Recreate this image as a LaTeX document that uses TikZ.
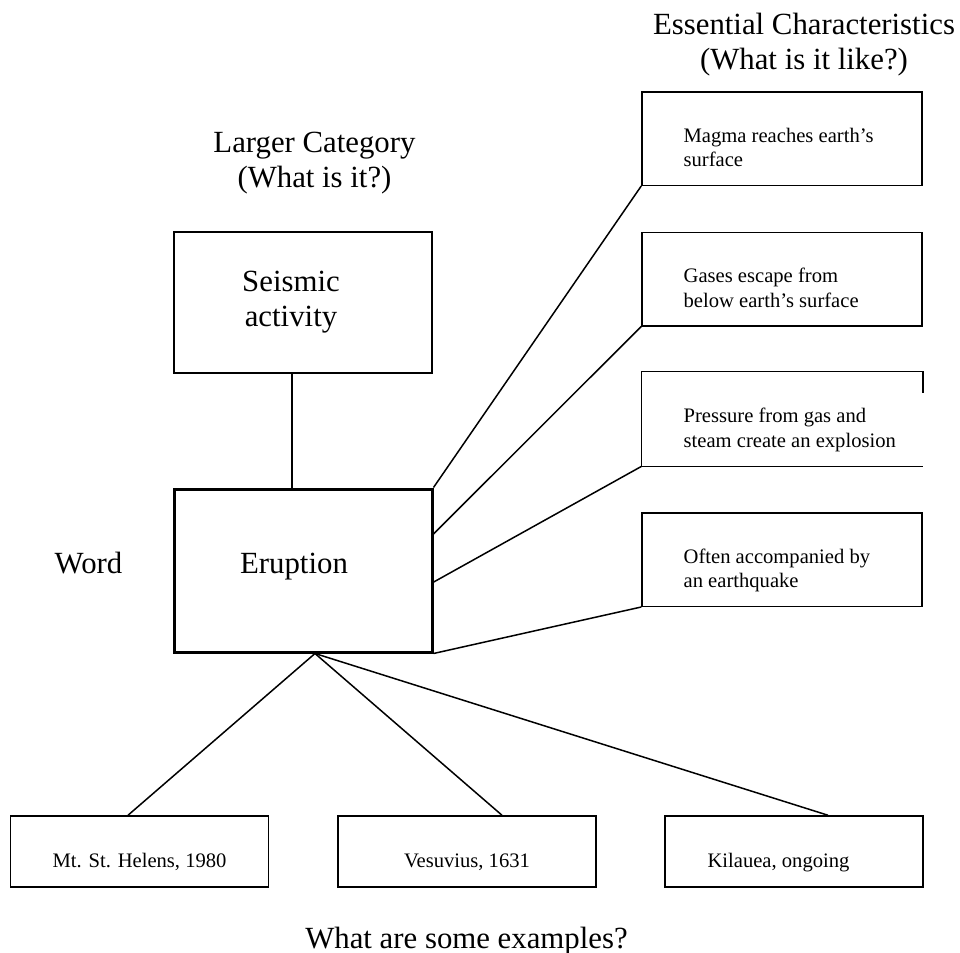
\documentclass[tikz,border=0pt]{standalone}
\usepackage{fontspec}
\setmainfont{Liberation Serif}
\usetikzlibrary{calc}
\tikzset{
  bigtext/.style={font=\fontsize{15.4}{17.5}\selectfont},
  smalltext/.style={font=\fontsize{10.3}{12.25}\selectfont},
  catbox/.style={draw,line width=0.75pt,bigtext,minimum width=129pt,inner sep=0pt},
  charbox/.style={draw,line width=0.75pt,minimum width=140pt,minimum height=46.75pt,inner sep=0pt},
  chartext/.style={smalltext,align=left,inner sep=0pt,anchor=base west},
  exbox/.style={draw,line width=0.75pt,smalltext,minimum width=129pt,minimum height=35.5pt,text height=15.5pt,text depth=0pt,inner sep=0pt},
  link/.style={line width=0.75pt}
}
\begin{document}
\begin{tikzpicture}[x=0.5pt,y=-0.5pt]
  \useasboundingbox (0,0) rectangle (960,953);
  \node[bigtext,align=center] (ectitle) at (804,45) {Essential Characteristics\\(What is it like?)};
  \node[bigtext,align=center] (lctitle) at (314.5,163) {Larger Category\\(What is it?)};
  \node[bigtext,anchor=base] (word) at (88.5,573) {Word};
  \node[bigtext,anchor=base] (extitle) at (466.5,948) {What are some examples?};
  \node[catbox,align=center,minimum height=70.5pt] (seismic) at (303,302.5) {Seismic\hspace*{12pt}\\activity\hspace*{12pt}};
  \node[catbox,line width=1.5pt,minimum height=81.5pt,text height=10.5pt,text depth=8pt] (erupt) at (303,570.5) {Eruption\hspace*{9pt}};
  \draw[link] ([xshift=-5.5pt]seismic.south) -- ([xshift=-5.5pt]erupt.north);
  \node[charbox] (c1) at (782,138.5) {};
  \node[chartext] (t1) at ([shift={(21pt,-14pt)}]c1.west) {Magma reaches earth's\\surface};
  \node[charbox] (c2) at (782,279) {};
  \node[chartext] (t2) at ([shift={(21pt,-14pt)}]c2.west) {Gases escape from\\below earth's surface};
  \node[charbox,draw=none] (c3) at (782,419) {};
  \draw[link] ([yshift=-10.5pt]c3.north east) -- (c3.north east) -- (c3.north west) -- (c3.south west) -- (c3.south east);
  \node[chartext] (t3) at ([shift={(21pt,-14pt)}]c3.west) {Pressure from gas and\\steam create an explosion};
  \node[charbox] (c4) at (782,559.5) {};
  \node[chartext] (t4) at ([shift={(21pt,-14pt)}]c4.west) {Often accompanied by\\an earthquake};
  \draw[link] (erupt.north east) -- (c1.south west);
  \draw[link] ($(erupt.north east)!0.28!(erupt.south east)$) -- (c2.south west);
  \draw[link] ($(erupt.north east)!0.57!(erupt.south east)$) -- (c3.south west);
  \draw[link] (erupt.south east) -- (c4.south west);
  \node[exbox] (ex1) at (139.5,851.5) {Mt. St. Helens, 1980};
  \node[exbox] (ex2) at (467,851.5) {Vesuvius, 1631};
  \node[exbox] (ex3) at (794,851.5) {Kilauea, ongoing\hspace*{15.5pt}};
  \draw[link] ([xshift=6pt]erupt.south) -- ([xshift=-5.75pt]ex1.north);
  \draw[link] ([xshift=6pt]erupt.south) -- ([xshift=17.5pt]ex2.north);
  \draw[link] ([xshift=6pt]erupt.south) -- ([xshift=17pt]ex3.north);
\end{tikzpicture}
\end{document}
